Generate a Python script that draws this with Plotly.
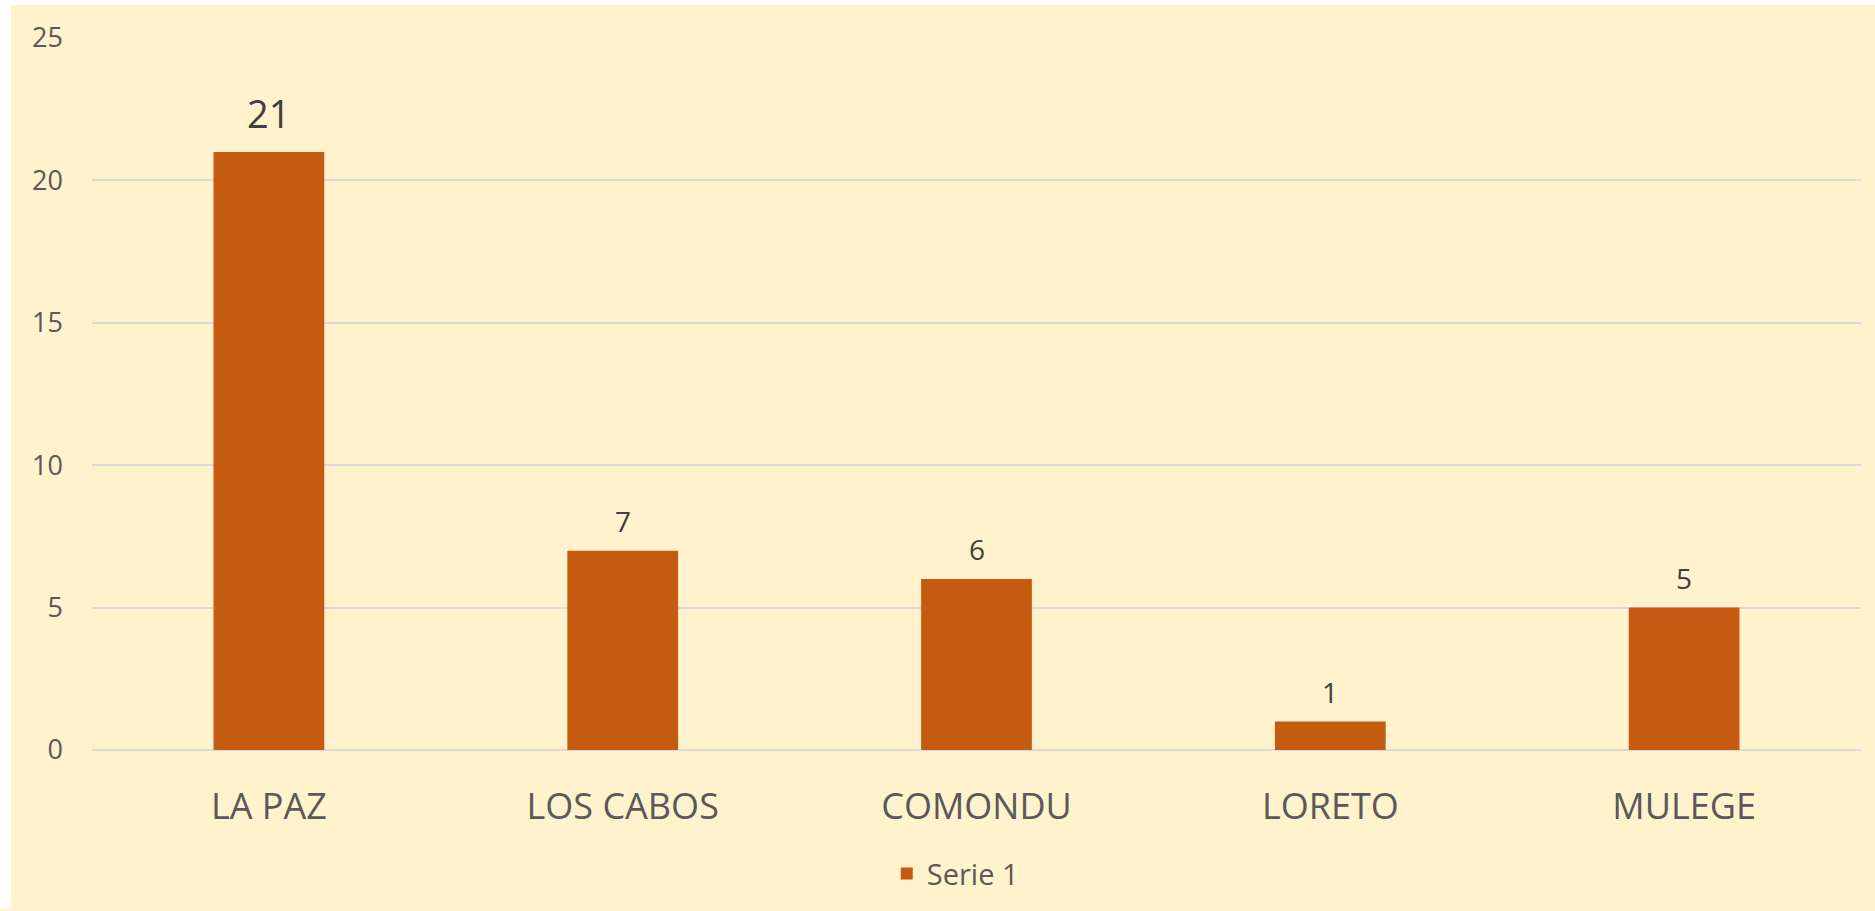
import plotly.graph_objects as go

categories = ["LA PAZ", "LOS CABOS", "COMONDU", "LORETO", "MULEGE"]
values = [21, 7, 6, 1, 5]
label_sizes = [38, 28, 28, 28, 28]
y_ticks = [0, 5, 10, 15, 20, 25]
series_name = "Serie 1"

BAR = "#C55A11"
BG = "#FFF2CC"
GRID = "#D9D9D9"
TXT = "#595959"
LBL = "#404040"
FONT = "Open Sans"

W, H = 1875, 911
ML, MR, MT, MB = 92, 14, 38, 159
pw = W - ML - MR
ph = H - MT - MB

fig = go.Figure()
fig.add_trace(go.Bar(
    x=categories, y=values, name=series_name,
    marker=dict(color=BAR, line=dict(width=0)),
    hoverinfo="x+y",
))

for c, v, s in zip(categories, values, label_sizes):
    fig.add_annotation(
        x=c, y=v, xref="x", yref="y", text=str(v), showarrow=False,
        yanchor="bottom", yshift=11 if s > 30 else 9,
        font=dict(family=FONT, size=s, color=LBL),
    )

# white strips at left/top of the canvas (outer frame)
fig.add_shape(type="rect", xref="paper", yref="paper",
              x0=-ML / pw, x1=(11 - ML) / pw, y0=-MB / ph, y1=1 + MT / ph,
              fillcolor="white", line=dict(width=0), layer="below")
fig.add_shape(type="rect", xref="paper", yref="paper",
              x0=-ML / pw, x1=1 + MR / pw, y0=1 + (MT - 5) / ph, y1=1 + MT / ph,
              fillcolor="white", line=dict(width=0), layer="below")

fig.update_layout(
    width=W, height=H,
    margin=dict(l=ML, r=MR, t=MT, b=MB),
    paper_bgcolor=BG, plot_bgcolor=BG,
    bargap=0.687,
    showlegend=True,
    legend=dict(orientation="h", x=0.488, xanchor="center", y=(752 - 876) / ph,
                yanchor="middle", font=dict(family=FONT, size=29, color=TXT),
                bgcolor="rgba(0,0,0,0)"),
    font=dict(family=FONT, color=TXT),
    xaxis=dict(showgrid=False, showline=False, zeroline=False,
               tickfont=dict(family=FONT, size=36, color=TXT),
               ticks="", ticklabelstandoff=32),
    yaxis=dict(range=[0, 25], tickvals=y_ticks, showgrid=True, gridcolor=GRID,
               gridwidth=1.5, zeroline=True, zerolinecolor=GRID, zerolinewidth=1.5,
               showline=False, ticks="",
               tickfont=dict(family=FONT, size=27, color=TXT),
               ticklabelstandoff=28),
)

fig.write_html("out.html",
               config={"displayModeBar": False},
               post_script="document.body.style.margin='0';document.body.style.overflow='hidden';")
